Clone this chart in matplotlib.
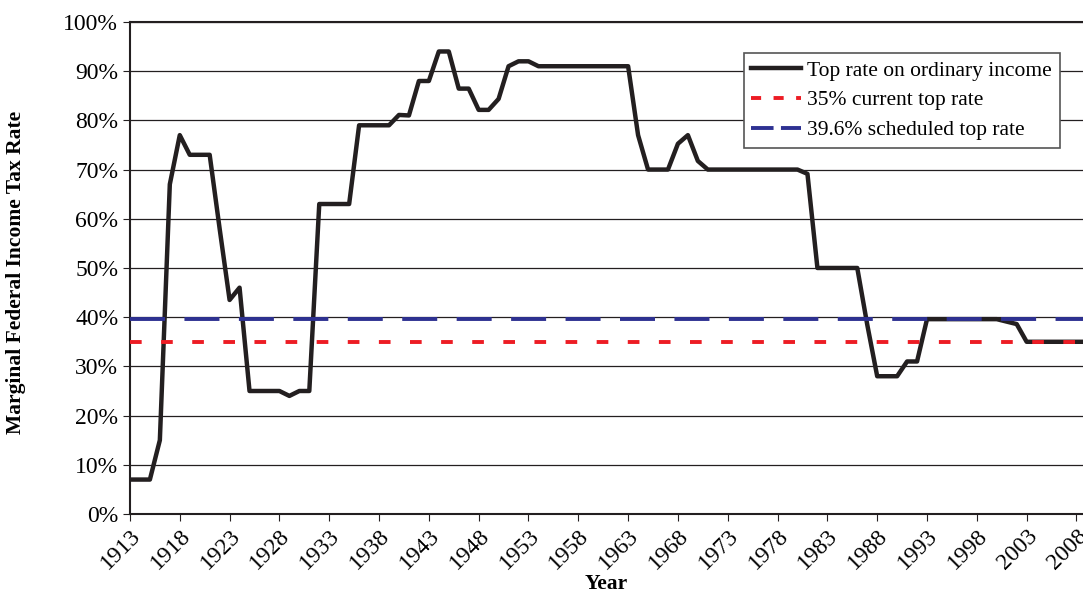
import numpy as np
import matplotlib
matplotlib.use("Agg")
import matplotlib.pyplot as plt
from matplotlib.ticker import PercentFormatter

plt.rcParams['font.family'] = ['Liberation Serif', 'DejaVu Serif']

years = list(range(1913, 2010))
top_rate = [7, 7, 7, 15, 67, 77, 73, 73, 73, 58, 43.5, 46, 25, 25, 25, 25, 24, 25, 25,
            63, 63, 63, 63, 79, 79, 79, 79, 81.1, 81, 88, 88, 94, 94, 86.45, 86.45,
            82.13, 82.13, 84.36, 91, 92, 92, 91, 91, 91, 91, 91, 91, 91, 91, 91, 91,
            77, 70, 70, 70, 75.25, 77, 71.75, 70, 70, 70, 70, 70, 70, 70, 70, 70, 70,
            69.13, 50, 50, 50, 50, 50, 38.5, 28, 28, 28, 31, 31, 39.6, 39.6, 39.6,
            39.6, 39.6, 39.6, 39.6, 39.6, 39.1, 38.6, 35, 35, 35, 35, 35, 35, 35]
current_rate = 35
scheduled_rate = 39.6
tick_years = list(range(1913, 2009, 5))

fig = plt.figure(figsize=(10.83, 5.9), dpi=100)
ax = fig.add_axes([0.12, 0.1288, 0.885, 0.834])

ax.plot(years, top_rate, color='#231f20', lw=3.2, label='Top rate on ordinary income', zorder=3)
ax.axhline(current_rate, color='#ed1c24', lw=2.8, ls=(0, (3, 5)), label='35% current top rate', zorder=4)
ax.axhline(scheduled_rate, color='#2e3192', lw=2.8, ls=(0, (9, 5)), label='39.6% scheduled top rate', zorder=4)

ax.set_xlim(1913, 2009.2)
ax.set_ylim(0, 100)
ax.set_xticks(tick_years)
ax.set_xticklabels([str(y) for y in tick_years], rotation=45, ha='right', rotation_mode='anchor')
ax.set_yticks(range(0, 101, 10))
ax.yaxis.set_major_formatter(PercentFormatter(decimals=0))
ax.tick_params(labelsize=17, direction='out', length=5, color='#231f20')
ax.tick_params(axis='x', pad=3)
ax.grid(axis='y', color='#231f20', lw=0.9)
ax.set_axisbelow(True)
for s in ax.spines.values():
    s.set_color('#231f20')
    s.set_linewidth(1.5)

ax.set_xlabel('Year', fontsize=15.5, fontweight='bold')
ax.xaxis.set_label_coords(0.497, -0.121)
ax.set_ylabel('Marginal Federal Income Tax Rate', fontsize=15.5, fontweight='bold')
ax.yaxis.set_label_coords(-0.108, 0.49)

leg = ax.legend(loc='upper right', bbox_to_anchor=(0.970, 0.937), fontsize=15.5, frameon=True,
                fancybox=False, edgecolor='#555555', framealpha=1, handlelength=2.3,
                handletextpad=0.3, borderpad=0.35, labelspacing=0.45, borderaxespad=0)
leg.get_frame().set_linewidth(1.2)
# shorter dashes in legend handles, like the original
hl = leg.get_lines()
hl[1].set_dashes([2.6, 3.2])
hl[2].set_dashes([5.8, 1.9])

fig.savefig('out.png', dpi=100)
